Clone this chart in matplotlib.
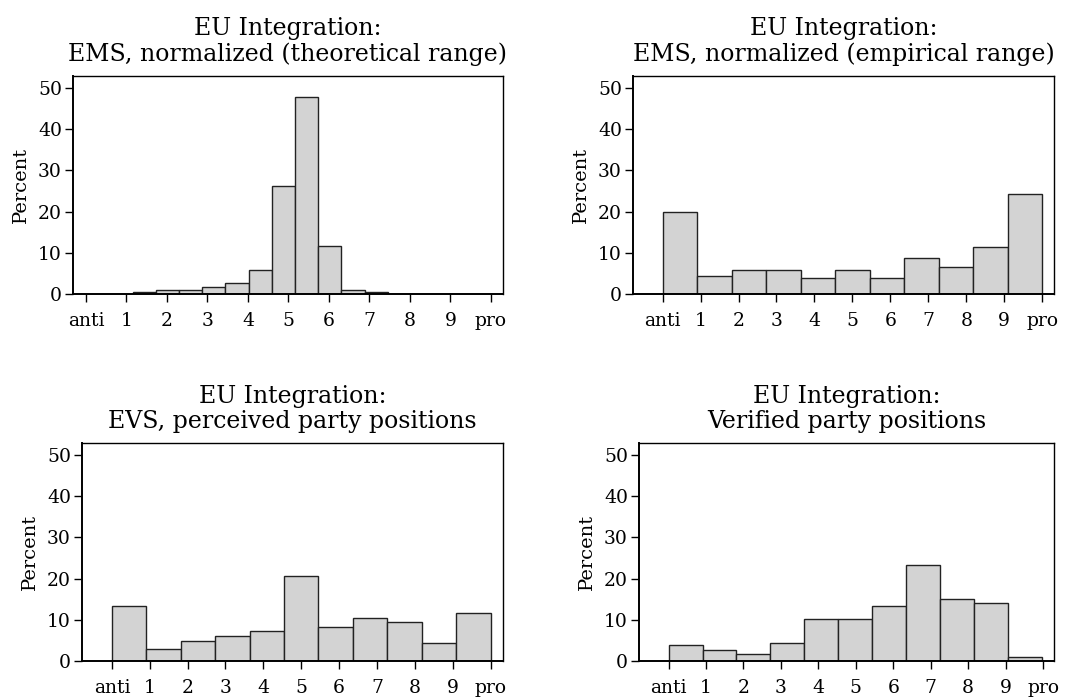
import numpy as np
import matplotlib.pyplot as plt

# ------------------------------ Data ------------------------------
tick_pos = [0, 1, 2, 3, 4, 5, 6, 7, 8, 9, 10]
tick_labels = ["anti", "1", "2", "3", "4", "5", "6", "7", "8", "9", "pro"]

titles = ["EU Integration:\nEMS, normalized (theoretical range)",
          "EU Integration:\nEMS, normalized (empirical range)",
          "EU Integration:\nEVS, perceived party positions",
          "EU Integration:\nVerified party positions"]

# theoretical range: narrow bins
edges_theo = [1.15, 1.72, 2.30, 2.87, 3.44, 4.02, 4.59, 5.16, 5.74, 6.31, 6.89, 7.46]
pct_theo = [0.6, 1.0, 1.0, 1.7, 2.6, 5.8, 26.2, 47.7, 11.7, 1.0, 0.6]

# 11 bins over 0..10
edges_11 = [0, 0.909, 1.818, 2.727, 3.636, 4.545, 5.455, 6.364, 7.273, 8.182, 9.091, 10]
edges_ver = [0, 0.907, 1.813, 2.72, 3.627, 4.533, 5.44, 6.347, 7.253, 8.16, 9.067, 9.97]
pct_emp = [19.8, 4.3, 5.8, 5.8, 3.9, 5.8, 3.9, 8.7, 6.5, 11.3, 24.2]
pct_evs = [13.4, 2.9, 4.9, 6.1, 7.2, 20.7, 8.3, 10.5, 9.5, 4.3, 11.7]
pct_ver = [4.0, 2.6, 1.8, 4.4, 10.2, 10.2, 13.3, 23.4, 15.0, 14.1, 1.0]

panels = [(edges_theo, pct_theo, (-0.32, 10.3)),
          (edges_11, pct_emp, (-0.78, 10.31)),
          (edges_11, pct_evs, (-0.79, 10.33)),
          (edges_ver, pct_ver, (-0.79, 10.29))]

# ------------------------------ Plot ------------------------------
plt.rcParams['font.family'] = ['DejaVu Serif']

W, H = 1087, 700
fig = plt.figure(figsize=(W / 100, H / 100), dpi=100)

# axes boxes in pixels: left, right, top, bottom
boxes = [(73, 503, 76, 294),
         (633, 1054, 76, 294),
         (82, 503, 443, 661),
         (639, 1054, 443, 661)]

for (l, r, t, b), title, (edges, pct, xl) in zip(boxes, titles, panels):
    ax = fig.add_axes([l / W, 1 - b / H, (r - l) / W, (b - t) / H])
    edges = np.array(edges)
    ax.bar(edges[:-1], pct, width=np.diff(edges), align='edge',
           color='#d3d3d3', edgecolor='#222222', linewidth=1.0)
    ax.set_xlim(*xl)
    ax.set_ylim(0, 52.9)
    ax.set_yticks([0, 10, 20, 30, 40, 50])
    ax.set_xticks(tick_pos)
    ax.set_xticklabels(tick_labels)
    ax.tick_params(axis='both', direction='out', length=6, width=1.0,
                   labelsize=13.5, colors='black')
    ax.tick_params(axis='x', pad=7)
    ax.tick_params(axis='y', pad=2)
    ax.set_ylabel("Percent", fontsize=14, labelpad=6)
    ax.set_title(title, fontsize=17, linespacing=1.1, pad=11)
    for side in ['top', 'right']:
        ax.spines[side].set_linewidth(1.0)
    for side in ['left', 'bottom']:
        ax.spines[side].set_linewidth(1.4)

plt.savefig("out.png", dpi=100)
